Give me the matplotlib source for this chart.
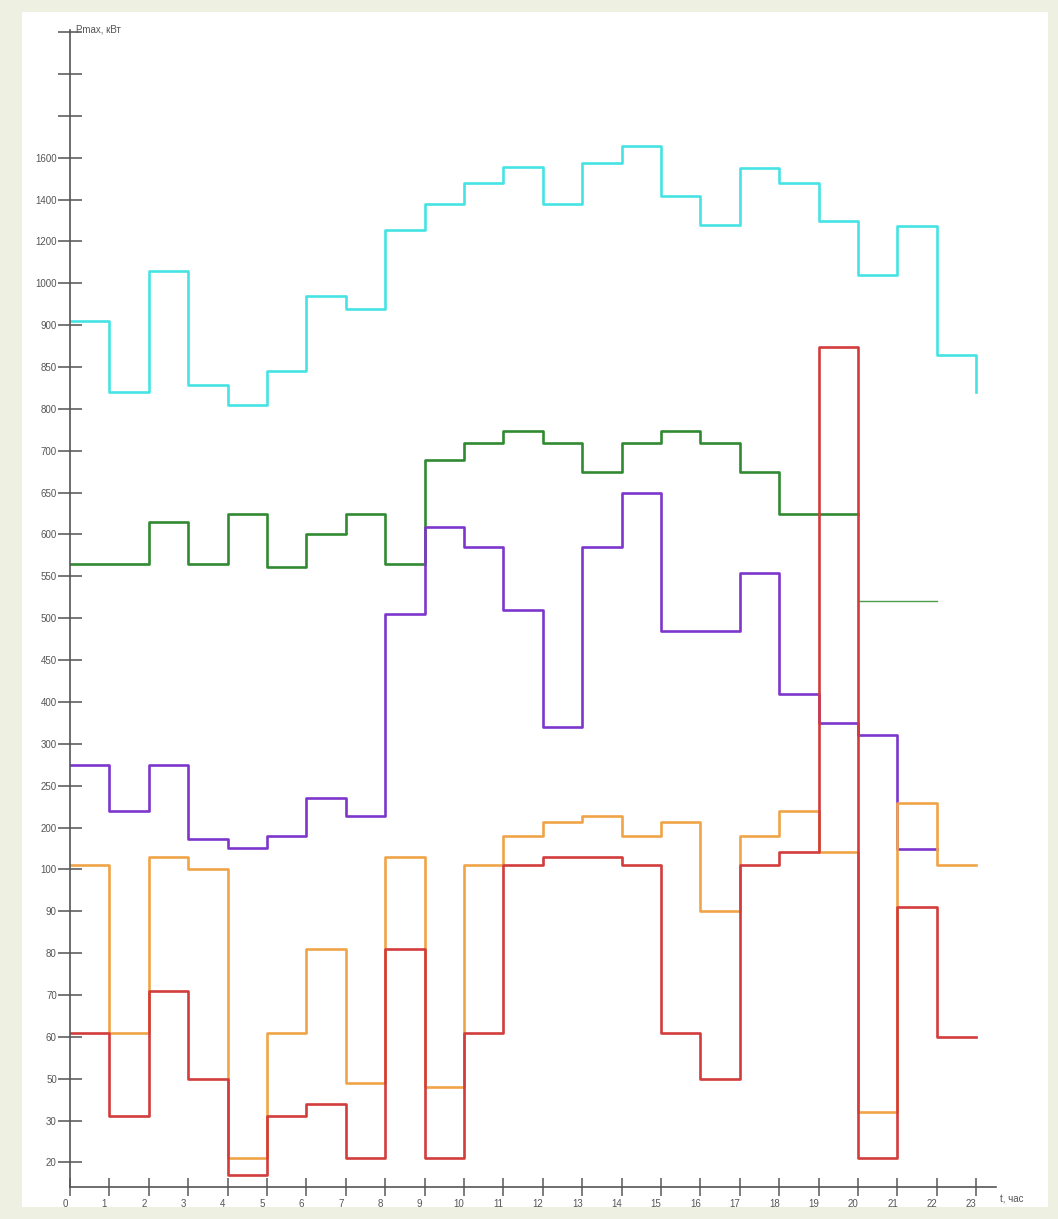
import numpy as np
import matplotlib
matplotlib.use("Agg")
import matplotlib.pyplot as plt
from matplotlib.patches import Rectangle
from matplotlib.transforms import ScaledTranslation

# equally spaced y ticks with irregular values (as on the original drawing)
TICK_VALUES = [20, 30, 50, 60, 70, 80, 90, 100, 200, 250, 300, 400, 450, 500,
               550, 600, 650, 700, 800, 850, 900, 1000, 1200, 1400, 1600]
EXTRA_TICKS = [1800, 2000, 2200]   # unlabeled marks above 1600

hours = list(range(24))

cyan = [910, 820, 1058, 829, 805, 845, 970, 938, 1256, 1378, 1478, 1556,
        1380, 1576, 1656, 1418, 1278, 1552, 1478, 1298, 1038, 1276, 864, 820]
green = [565, 565, 615, 565, 625, 561, 600, 625, 565, 689, 719, 748,
         719, 675, 719, 748, 719, 675, 625, 625, 625]
green_tail_x = [20, 22]
green_tail = [520, 520]
purple = [275, 220, 275, 172, 151, 180, 235, 214, 505, 609, 585, 510,
          340, 585, 649, 485, 485, 554, 410, 349, 322, 149, 149]
orange = [111, 61, 129, 102, 21, 61, 81, 48, 129, 46, 110, 180,
          206, 214, 180, 206, 90, 180, 220, 141, 34, 229, 111, 111]
red = [61, 32, 71, 50, 17, 32, 38, 21, 81, 21, 61, 111,
       129, 129, 111, 61, 50, 111, 141, 874, 21, 91, 60, 60]

# value <-> position mapping (one tick step = 1 unit, "20" at 0)
vals_ext = np.array([0] + TICK_VALUES + EXTRA_TICKS + [2400], dtype=float)
pos_ext = np.concatenate([[-2.0], np.arange(len(vals_ext) - 1, dtype=float)])


def fwd(v):
    return np.interp(v, vals_ext, pos_ext)


def inv(p):
    return np.interp(p, pos_ext, vals_ext)


W, H = 1058, 1219
fig = plt.figure(figsize=(W / 100, H / 100), dpi=100, facecolor="#eef1e1")
fig.patches.append(Rectangle((22 / W, 1 - 1207 / H), (1048 - 22) / W, (1207 - 12) / H,
                             transform=fig.transFigure, facecolor="white",
                             edgecolor="none", zorder=-1))

ax = fig.add_axes([70 / W, 1 - 1186.7 / H, 926 / W, (1186.7 - 30) / H])
ax.set_facecolor("none")
ax.set_yscale("function", functions=(fwd, inv))
ax.set_xlim(0, 23.5)
ax.set_ylim(inv(-0.58), inv(27.05))

lw = 1.9
ax.plot(hours[:len(cyan)], cyan, drawstyle="steps-post", color="#45e3e3", lw=lw)
ax.plot(hours[:len(green)], green, drawstyle="steps-post", color="#2f8a32", lw=lw)
ax.plot(green_tail_x, green_tail, color="#4a9e4a", lw=1.0)
ax.plot(hours[:len(purple)], purple, drawstyle="steps-post", color="#7d35cc", lw=lw)
ax.plot(hours[:len(orange)], orange, drawstyle="steps-post", color="#f0a448", lw=lw)
ax.plot(hours[:len(red)], red, drawstyle="steps-post", color="#d23c3c", lw=lw)

for s in ["top", "right"]:
    ax.spines[s].set_visible(False)
for s in ["left", "bottom"]:
    ax.spines[s].set_color("#555555")
    ax.spines[s].set_linewidth(1.2)

ax.set_yticks(TICK_VALUES + EXTRA_TICKS)
ax.set_yticklabels([str(v) for v in TICK_VALUES] + [""] * len(EXTRA_TICKS))
ax.yaxis.set_minor_locator(matplotlib.ticker.NullLocator())
ax.set_xticks(hours)
ax.set_xticklabels([str(h) for h in hours])

ax.tick_params(axis="y", direction="inout", length=17, width=1.4, color="#777777",
               pad=1, labelsize=7, labelcolor="#555555")
ax.tick_params(axis="x", direction="inout", length=13, width=1.2, color="#666666",
               pad=2, labelsize=7, labelcolor="#555555")

for lab in ax.get_yticklabels() + ax.get_xticklabels():
    lab.set_family("Liberation Sans")
off = ScaledTranslation(-5 / 100, 0, fig.dpi_scale_trans)
for lab in ax.get_xticklabels():
    lab.set_transform(lab.get_transform() + off)

fig.text(76 / W, 1 - 30 / H, "Pmax, кВт", fontsize=7, color="#555555",
         family="Liberation Sans", va="center", ha="left")
fig.text(1000 / W, 1 - 1199 / H, "t, час", fontsize=7, color="#555555",
         family="Liberation Sans", va="center", ha="left")

fig.savefig("out.png", dpi=100, facecolor=fig.get_facecolor())
